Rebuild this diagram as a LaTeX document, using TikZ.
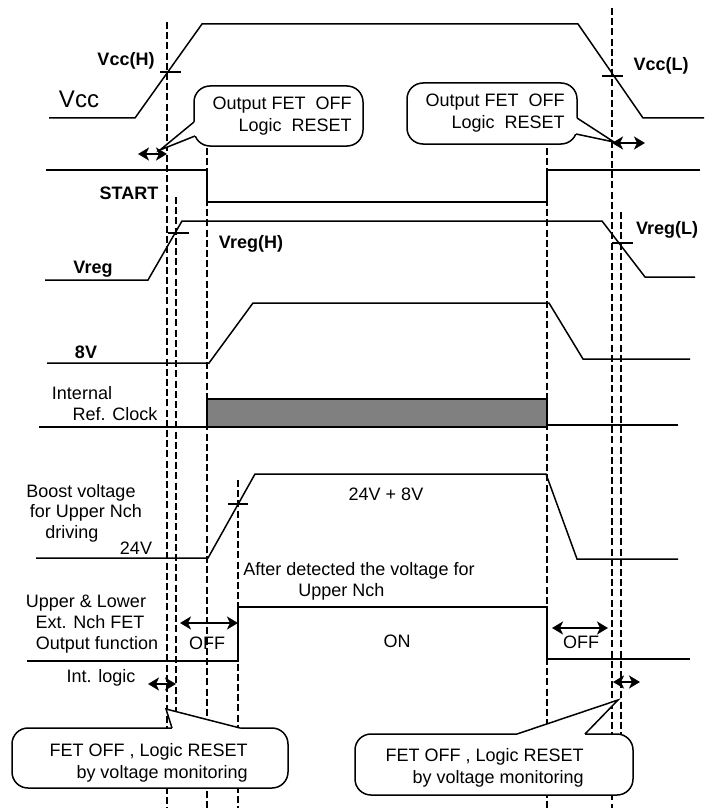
\documentclass[tikz,border=0pt]{standalone}
\usepackage{fontspec}
\setmainfont{Liberation Sans}
\usepackage{tikz}
\usetikzlibrary{arrows.meta}
\definecolor{clockc}{HTML}{808080}
\tikzset{
  signaledge/.style={draw=black, line width=0.75pt},
  tickedge/.style={draw=black, line width=0.75pt},
  markedge/.style={draw=black, line width=1.3pt, dash pattern=on 3.5pt off 1.6pt},
  spanedge/.style={{Stealth[length=5.5pt,width=6.5pt,inset=1.5pt]}-{Stealth[length=5.5pt,width=6.5pt,inset=1.5pt]},
    draw=black, line width=1.2pt},
  labelnode/.style={inner sep=0pt, anchor=base, font=\fontsize{9}{10.5}\selectfont},
  boldnode/.style={labelnode, font=\fontsize{9}{10.5}\selectfont\bfseries},
  bubblenode/.style={rectangle, rounded corners=8pt, draw=black, fill=white,
    line width=0.75pt, inner sep=0pt},
  bubbletext/.style={inner sep=0pt, align=right, anchor=east,
    font=\fontsize{9}{11}\selectfont},
  pointeredge/.style={draw=black, line width=0.75pt},
}
\begin{document}
\begin{tikzpicture}[x=0.5pt, y=-0.5pt]
  \useasboundingbox (0,0) rectangle (708,808);
  \foreach \x/\ya/\yb in {167/22/808, 176/197/712, 207/148/808, 238/480/808,
                          547/148/808, 612/8/808, 621/212/735}
    \draw[markedge] (\x,\ya) -- (\x,\yb);
  \draw[signaledge] (49,118) -- (135,118) -- (202,24) -- (578,24) -- (643,118) -- (704,118);
  \draw[tickedge] (160,72) -- (181,72);
  \draw[tickedge] (602,76) -- (623,76);
  \draw[signaledge] (46,170) -- (207,170) -- (207,202) -- (547,202) -- (547,170) -- (700,170);
  \draw[signaledge] (45,280) -- (148,280) -- (182,221) -- (602,221) -- (645,277) -- (695,277);
  \draw[tickedge] (168,233) -- (189,233);
  \draw[tickedge] (612,243) -- (633,243);
  \draw[signaledge] (47,363) -- (209,363) -- (253,303) -- (549,303) -- (583,359) -- (690,359);
  \draw[signaledge] (39,427) -- (207,427);
  \draw[signaledge, fill=clockc] (207,399) rectangle (547,427);
  \draw[signaledge] (547,425) -- (678,425);
  \draw[signaledge] (36,558) -- (208,558) -- (255,474) -- (546,474) -- (577,559) -- (678,559);
  \draw[tickedge] (228,504) -- (248,504);
  \draw[signaledge] (27,661) -- (238,661) -- (238,607) -- (547,607) -- (547,659) -- (690,659);

  \node[bubblenode, minimum width=84.5pt, minimum height=30pt] (fetoffa) at (278.5,116) {};
  \node[bubblenode, minimum width=85pt, minimum height=30.5pt] (fetoffb) at (492,113.5) {};
  \node[bubblenode, minimum width=138pt, minimum height=30pt] (monitora) at (150,758) {};
  \node[bubblenode, minimum width=139pt, minimum height=30.5pt] (monitorb) at (494,764.5) {};
  \coordinate (tipa) at (160,150);
  \coordinate (tipb) at (614,142);
  \coordinate (tipc) at (166,709);
  \coordinate (tipd) at (618,700);
  \fill[white] (194,122) -- (tipa) -- (195,136) -- (197,136) -- (197,122) -- cycle;
  \draw[pointeredge] (194,122) -- (tipa) -- (195,136);
  \fill[white] (577,118) -- (tipb) -- (576,134) -- (574,134) -- (574,118) -- cycle;
  \draw[pointeredge] (577,118) -- (tipb) -- (576,134);
  \fill[white] (172,728) -- (tipc) -- (240,728) -- (240,731) -- (172,731) -- cycle;
  \draw[pointeredge] (172,728) -- (tipc) -- (240,728);
  \fill[white] (517,734) -- (tipd) -- (585,734) -- (585,737) -- (517,737) -- cycle;
  \draw[pointeredge] (517,734) -- (tipd) -- (585,734);
  \node[bubbletext] (fetoffatext) at (352,116) {Output FET~~OFF\\Logic~~RESET};
  \node[bubbletext] (fetoffbtext) at (565,113.5) {Output FET~~OFF\\Logic~~RESET};
  \node[bubbletext] (monitoratext) at (248,763) {FET OFF , Logic RESET\\by voltage monitoring};
  \node[bubbletext] (monitorbtext) at (584,768) {FET OFF , Logic RESET\\by voltage monitoring};

  \coordinate (spana1) at (138,154);
  \coordinate (spana2) at (167,154);
  \coordinate (spanb1) at (612,143);
  \coordinate (spanb2) at (645,143);
  \coordinate (offa1) at (180,623);
  \coordinate (offa2) at (238,623);
  \coordinate (offb1) at (552,628);
  \coordinate (offb2) at (608,628);
  \coordinate (logica1) at (148,684);
  \coordinate (logica2) at (176,684);
  \coordinate (logicb1) at (613,682);
  \coordinate (logicb2) at (640,682);
  \draw[spanedge] (spana1) -- (spana2);
  \draw[spanedge] (spanb1) -- (spanb2);
  \draw[spanedge] (offa1) -- (offa2);
  \draw[spanedge] (offb1) -- (offb2);
  \draw[spanedge] (logica1) -- (logica2);
  \draw[spanedge] (logicb1) -- (logicb2);

  \node[boldnode] (vcch) at (126,66) {Vcc(H)};
  \node[labelnode, font=\fontsize{12}{14}\selectfont] (vcc) at (79,108) {Vcc};
  \node[boldnode] (vccl) at (661,71) {Vcc(L)};
  \node[boldnode] (start) at (129,199) {START};
  \node[boldnode] (vregh) at (251,248) {Vreg(H)};
  \node[boldnode] (vreg) at (93,273) {Vreg};
  \node[boldnode] (vregl) at (667,234) {Vreg(L)};
  \node[boldnode] (eightv) at (86,358) {8V};
  \node[labelnode] (clocka) at (82,399) {Internal};
  \node[labelnode] (clockb) at (115,420) {Ref. Clock};
  \node[labelnode] (boosta) at (81,497) {Boost voltage};
  \node[labelnode] (boostb) at (86,517) {for Upper Nch};
  \node[labelnode] (boostc) at (72,538) {driving};
  \node[labelnode] (boostlow) at (136,554) {24V};
  \node[labelnode] (boosthigh) at (386,500) {24V + 8V};
  \node[labelnode, anchor=base west] (detecta) at (243,575) {After detected the voltage for};
  \node[labelnode, anchor=base west] (detectb) at (298,596) {Upper Nch};
  \node[labelnode] (outa) at (86,607) {Upper \& Lower};
  \node[labelnode] (outb) at (90,628) {Ext. Nch FET};
  \node[labelnode] (outc) at (97,649) {Output function};
  \node[labelnode] (offa) at (207,649) {OFF};
  \node[labelnode] (on) at (397,647) {ON};
  \node[labelnode] (offb) at (581,648) {OFF};
  \node[labelnode] (intlogic) at (101,682) {Int. logic};
\end{tikzpicture}
\end{document}
